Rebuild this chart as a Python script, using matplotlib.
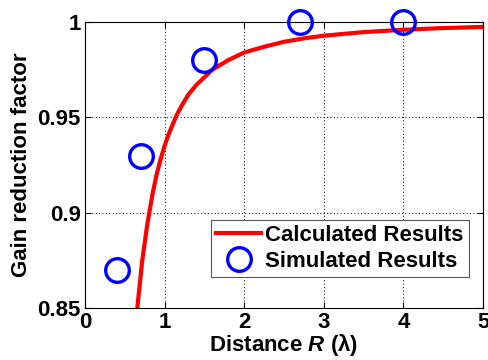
import matplotlib
matplotlib.use("Agg")
import matplotlib.pyplot as plt

# Calculated curve
calc_R = [0.66, 0.68, 0.70, 0.72, 0.75, 0.78, 0.80, 0.85, 0.90, 0.95, 1.00, 1.05, 1.10,
          1.15, 1.20, 1.30, 1.40, 1.50, 1.60, 1.70, 1.80, 1.90, 2.00, 2.25, 2.50, 2.75,
          3.00, 3.50, 4.00, 4.50, 5.00]
calc_G = [0.851, 0.859, 0.867, 0.875, 0.884, 0.893, 0.898, 0.910, 0.920, 0.928, 0.935, 0.941,
          0.946, 0.951, 0.955, 0.962, 0.967, 0.971, 0.975, 0.9775, 0.980, 0.982, 0.984,
          0.987, 0.9896, 0.9914, 0.9928, 0.9947, 0.9959, 0.9968, 0.9974]

# Simulated points
sim_R = [0.4, 0.7, 1.5, 2.7, 4.0]
sim_G = [0.87, 0.93, 0.98, 1.0, 1.0]

xticks = [0, 1, 2, 3, 4, 5]
yticks = [0.85, 0.9, 0.95, 1.0]
ytick_labels = ["0.85", "0.9", "0.95", "1"]

plt.rcParams['font.family'] = ['Liberation Sans', 'DejaVu Sans']
plt.rcParams['font.weight'] = 'bold'
plt.rcParams['mathtext.fontset'] = 'custom'
plt.rcParams['mathtext.rm'] = 'Liberation Sans:bold'
plt.rcParams['mathtext.it'] = 'Liberation Sans:italic:bold'

FS = 16

fig = plt.figure(figsize=(4.88, 3.6), dpi=100)
ax = fig.add_axes([0.174, 0.144, 0.816, 0.795])

ax.plot(calc_R, calc_G, color='#ff0000', lw=3, label='Calculated Results', zorder=3,
        solid_joinstyle='round')
ax.plot(sim_R, sim_G, linestyle='none', marker='o', ms=17, mfc='none', mec='#0000ff',
        mew=2.4, label='Simulated Results', clip_on=False, zorder=4)

ax.set_xlim(0, 5)
ax.set_ylim(0.85, 1.0)
ax.set_xticks(xticks)
ax.set_yticks(yticks)
ax.set_yticklabels(ytick_labels)
ax.tick_params(direction='in', labelsize=FS, length=4, width=0.8, top=True, right=True, pad=3)
for lab in ax.get_xticklabels() + ax.get_yticklabels():
    lab.set_fontweight('bold')
ax.grid(True, linestyle=(0, (1, 2.5)), color='black', lw=0.7)
for s in ax.spines.values():
    s.set_linewidth(0.8)

ax.set_xlabel(r'Distance $\mathit{R}$ (λ)', fontsize=FS, fontweight='bold', labelpad=-1)
ax.set_ylabel('Gain reduction factor', fontsize=FS, fontweight='bold', labelpad=4)

leg = ax.legend(loc='lower right', bbox_to_anchor=(0.965, 0.108), fontsize=FS,
                frameon=True, fancybox=False, edgecolor='#555555', framealpha=1,
                handlelength=2.0, borderpad=0.25, labelspacing=0.2, handletextpad=0.2,
                borderaxespad=0)
leg.get_frame().set_linewidth(0.8)
for t in leg.get_texts():
    t.set_fontweight('bold')

fig.savefig('out.png', dpi=100)
